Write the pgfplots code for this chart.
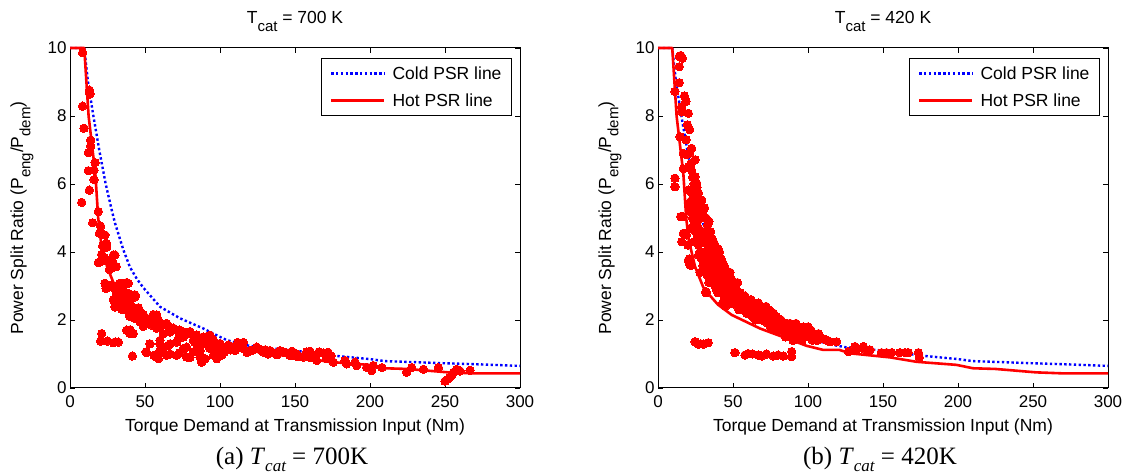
\documentclass[border=0pt]{standalone}
\usepackage{fontspec}
\setmainfont{Liberation Sans}
\newfontfamily\timesfont{Liberation Serif}
\usepackage{pgfplots}
\usepackage{pgfplotstable}
\pgfplotsset{compat=1.18}
\newcommand{\sub}[1]{\raisebox{-0.42em}{\fontsize{15}{15}\selectfont #1}}

\pgfplotstableread{
x y
0 10
9.5 10
12 9.0
15.6 8.0
19.5 7.0
23.8 6.0
28 5.2
30 4.85
35.6 4.06
40 3.55
44.7 3.2
48.9 2.95
60 2.39
73.3 2.05
88.9 1.75
97.8 1.55
104.4 1.41
115 1.28
125 1.2
140 1.14
150 1.1
176 0.95
200 0.85
210 0.79
230 0.76
248 0.73
270 0.7
300 0.65
}\coldline

\pgfplotstableread{
x y
0 10
9.5 10
12.4 8.0
16.9 6.3
18.8 5.0
20.5 4.35
24.7 3.57
30.2 2.96
33 2.8
40 2.45
49.1 2.15
68 1.75
85.8 1.46
99.1 1.24
110.2 1.12
121 1.12
128 1.02
154.7 0.90
172.4 0.77
199 0.68
210 0.58
225 0.56
252 0.46
270 0.43
300 0.43
}\hotline

\pgfplotstableread{
x y
8.4 9.86
12.9 8.76
13.4 8.65
8.4 8.29
9.3 7.64
13.8 7.29
13.8 7.12
12.2 6.92
16.7 6.63
12.2 6.39
16.0 6.41
16.0 6.13
12.9 5.82
7.8 5.46
18.9 5.19
15.1 4.86
20.4 4.76
19.6 4.55
21.1 4.55
23.3 4.5
21.8 4.18
22.2 4.2
24.4 4.14
24.4 4.25
21.1 3.93
18.9 3.69
20.0 3.71
22.7 3.84
23.3 3.76
26.7 3.76
26.7 3.71
28.9 3.91
30.0 3.91
28.9 3.65
30.9 3.57
30.0 3.57
27.8 3.52
26.2 3.48
23.3 3.08
24.0 2.93
24.4 2.93
27.8 3.03
28.9 2.98
30.0 2.93
32.2 3.03
33.3 3.08
34.4 3.08
37.8 3.1
38.9 3.08
30.9 2.78
31.1 2.78
35.6 2.87
35.6 2.88
38.9 2.78
43.3 2.74
28.9 2.6
28.9 2.59
32.2 2.5
30.2 2.38
30.0 2.39
34.4 2.68
35.6 2.55
40.0 2.46
40.0 2.59
43.3 2.68
34.4 2.31
34.4 2.34
37.8 2.31
37.8 2.29
41.1 2.41
42.2 2.24
43.3 2.31
45.6 2.36
45.6 2.34
47.8 2.2
40.0 2.16
40.0 2.1
44.4 2.11
43.3 2.05
48.9 2.16
46.7 1.95
51.1 2.05
52.2 2.0
55.6 2.16
57.8 2.15
58.9 2.0
55.6 1.91
54.4 1.85
48.9 1.81
57.8 1.76
60.0 1.8
62.2 1.86
64.4 1.9
65.6 1.81
62.2 1.6
66.7 1.65
68.9 1.76
71.1 1.7
73.3 1.7
75.6 1.65
80.0 1.66
80.0 1.6
84.4 1.55
84.4 1.56
88.9 1.5
91.1 1.51
93.3 1.55
92.2 1.4
95.6 1.41
75.6 1.5
72.2 1.45
82.2 1.4
86.7 1.3
100.0 1.31
105.6 1.26
113.3 1.2
115.6 1.34
37.8 1.7
40.0 1.71
40.0 1.6
42.2 1.6
21.1 1.6
20.4 1.38
24.9 1.38
28.9 1.33
30.0 1.35
32.2 1.35
41.6 0.94
53.3 1.3
50.7 1.06
51.1 1.04
56.0 0.96
56.7 0.97
57.8 0.9
58.9 0.86
60.0 1.3
60.0 1.4
60.0 1.1
61.1 1.2
62.2 1.16
65.6 1.25
66.7 1.3
64.4 0.96
66.7 1.0
71.1 0.96
71.1 1.35
73.3 1.04
75.6 1.16
77.8 1.2
77.8 0.91
80.0 0.9
82.2 1.06
83.3 1.35
86.7 1.1
86.7 0.91
87.8 0.76
90.0 0.86
93.3 1.25
93.3 1.16
95.6 0.96
96.7 1.06
97.8 0.86
101.1 0.96
104.4 1.16
108.9 1.2
97.8 1.26
102.2 1.2
106.7 1.16
111.8 1.34
115.6 1.16
120.0 1.1
124.4 1.2
128.9 1.06
133.3 1.1
137.8 1.0
142.2 1.06
146.7 0.96
151.1 1.0
155.6 0.91
157.8 1.06
162.2 0.96
164.4 0.81
168.9 1.03
171.1 0.86
170.0 1.0
175.6 0.76
110 1.1
118 1.05
122 1.12
126 1.15
130 1.12
135 1.05
140 1.1
145 1.02
148 1.08
152 0.92
158 0.98
160 1.08
166 1.06
172 1.05
174 0.95
160 0.9
150 0.95
138 0.98
132 1.0
103 1.05
107 1.12
99 1.1
95 1.2
90 1.3
88 1.45
85 1.25
183.3 0.81
184.4 0.71
190.0 0.76
191.1 0.66
197.8 0.61
201.1 0.51
202.2 0.66
208.0 0.6
224.4 0.46
227.8 0.6
235.6 0.55
245.6 0.6
250.0 0.2
251.5 0.25
253.0 0.3
254.5 0.38
255.6 0.46
257.8 0.55
260.0 0.5
266.7 0.52
}\scatA

\pgfplotstableread{
x y
14.2 9.75
16.2 9.7
15.2 9.78
14.2 9.45
14.2 8.98
11.3 8.72
17.6 8.59
15.8 8.27
18.7 8.43
20.2 8.08
15.8 8.12
19.6 7.74
21.1 7.6
14.7 7.39
18.7 7.3
22.4 7.05
16.9 6.9
18.9 6.86
24.7 6.71
20.4 6.51
22.4 6.4
16.9 6.45
24.7 6.22
25.8 6.02
11.3 6.17
11.3 5.92
20.4 5.82
27.0 5.73
23.6 5.63
29.1 5.53
20.4 5.39
25.8 5.34
30.2 5.24
16.9 5.04
23.6 5.04
28.0 5.09
15.1 5.04
16.9 4.55
15.8 4.3
18.0 4.55
20.2 3.76
21.3 3.62
32.0 2.83
48.0 2.49
21 6.9
22 6.6
23 6.2
24 6.0
25 5.8
26 5.6
27 5.4
28 5.2
29 5.0
22 5.5
23 5.0
24 4.8
25 4.6
26 4.4
27 4.2
28 4.0
21 5.2
22 4.7
19 4.5
20 4.2
21 3.8
22 3.6
24 4.3
26 4.9
27 4.7
29 4.5
30 4.3
28 4.6
25 5.2
26 5.9
24 5.5
23 5.7
27 3.9
29 3.8
30 3.6
28 3.4
31 5.3
32 5.0
33 4.8
34 4.9
35 4.6
36 4.4
37 4.3
38 4.2
39 4.0
40 4.1
31 4.6
32 4.4
33 4.2
34 4.0
35 3.9
36 3.8
37 3.7
38 3.6
39 3.5
40 3.4
31 4.0
32 3.8
33 3.6
34 3.4
35 3.3
36 3.2
37 3.1
38 3.0
39 2.9
40 2.8
32 2.8
34 3.1
31 3.5
33 3.3
35 3.6
37 3.4
39 3.2
36 4.1
38 3.9
40 3.7
41 4.0
42 3.8
43 3.7
44 3.6
45 3.5
46 3.4
47 3.3
48 3.4
49 3.2
50 3.1
41 3.5
42 3.3
43 3.2
44 3.1
45 3.0
46 2.9
47 2.8
48 2.7
49 2.6
50 2.5
41 3.0
42 2.9
43 2.8
44 2.7
45 2.6
46 3.1
47 3.0
48 2.9
49 2.8
50 2.7
42 3.6
44 3.3
46 3.2
48 3.1
43 2.5
45 2.4
51 3.0
52 2.9
53 2.8
54 2.7
55 2.8
56 2.6
57 2.7
58 2.5
59 2.6
60 2.4
51 2.6
52 2.5
53 2.4
54 2.6
55 2.4
56 2.3
57 2.4
58 2.3
59 2.2
60 2.6
52 2.7
54 2.3
56 2.5
58 2.7
53 3.1
55 2.5
61 2.5
62 2.3
63 2.4
64 2.2
65 2.3
66 2.4
67 2.2
68 2.1
69 2.3
70 2.2
62 2.6
64 2.5
66 2.1
68 2.4
70 2.0
63 2.1
65 2.0
67 2.5
69 2.0
71 2.3
72 2.1
73 2.2
74 2.0
75 2.1
76 1.9
77 2.0
78 1.9
79 2.1
80 1.8
72 2.4
74 2.3
76 2.2
78 1.7
80 2.0
73 1.9
75 1.8
77 2.2
81 1.9
82 1.8
83 1.7
84 1.9
85 1.8
86 1.6
87 1.7
88 1.9
89 1.6
90 1.8
91 1.7
92 1.5
93 1.6
94 1.8
95 1.7
82 2.0
84 1.6
86 1.9
88 1.5
90 1.4
92 1.9
85 1.5
96 1.6
97 1.8
98 1.5
99 1.7
100 1.6
101 1.5
102 1.7
103 1.4
104 1.6
105 1.5
106 1.4
107 1.6
108 1.5
100 1.8
96 1.4
110 1.45
112.4 1.41
119.1 1.36
114.7 1.36
24.7 1.36
26.9 1.29
30.2 1.29
33.5 1.33
28.5 1.3
51.3 1.04
58.0 0.97
60.2 1.01
63.0 1.0
66.9 0.97
69.1 0.94
72.4 1.0
76.9 0.94
80.0 0.97
83.6 0.94
89.1 1.07
89.1 0.92
126.9 1.07
131.3 1.22
132.4 1.14
136.9 1.22
138.0 1.14
141.3 1.12
149.0 1.04
152.4 1.04
155.8 1.04
161.3 1.04
164.7 1.04
166.9 1.04
173.6 1.04
174.2 0.90
}\scatB

\pgfplotsset{psr/.style={
  width=450pt, height=340pt, scale only axis, anchor=south west,
  xmin=0, xmax=300, ymin=0, ymax=10,
  xtick={0,50,...,300}, ytick={0,2,...,10},
  tick align=inside, major tick length=5pt,
  axis line style={black, line width=1pt},
  every tick/.style={black, line width=0.8pt},
  /pgf/number format/assume math mode=true,
  ticklabel style={font=\fontsize{17}{20}\selectfont},
  xticklabel style={yshift=-4pt},
  label style={font=\fontsize{17.5}{20}\selectfont},
  xlabel={Torque Demand at Transmission Input (Nm)},
  ylabel={Power Split Ratio (P\sub{eng}/P\sub{dem})},
  xlabel style={at={(axis description cs:0.5,0)}, anchor=base, yshift=-44pt},
  ylabel style={at={(axis description cs:-0.1044,0.5)}, anchor=base},
  title style={font=\fontsize{17.5}{20}\selectfont, at={(axis description cs:0.5,1)}, anchor=base, yshift=18pt},
  clip=false,
  legend style={at={(1,1)}, anchor=north east, xshift=-8pt, yshift=-10pt, draw=black, line width=1pt, font=\fontsize{17.5}{20}\selectfont, inner xsep=8pt, inner ysep=6pt, row sep=9pt, /tikz/every odd column/.append style={column sep=5pt}},
  legend cell align=left,
  legend image code/.code={\draw[#1] (0pt,0pt) -- (53pt,0pt);},
  scat/.style={only marks, mark=*, mark size=4.2pt, color=red, mark options={fill=red, draw=red, line width=0pt}, forget plot},
  cold/.style={blue, line width=2.4pt, dash pattern=on 2.4pt off 2.4pt},
  hot/.style={red, line width=2.6pt, line join=round},
}}

\begin{document}
\begin{tikzpicture}
\useasboundingbox (0,0) rectangle (1130pt,473pt);
\begin{axis}[psr, at={(70pt,85pt)}, title={T\sub{cat} = 700 K}]
\addplot[scat] table {\scatA};
\addplot[cold] table {\coldline};
\addlegendentry{Cold PSR line}
\addplot[hot] table {\hotline};
\addlegendentry{Hot PSR line}
\end{axis}
\begin{axis}[psr, at={(658pt,85pt)}, title={T\sub{cat} = 420 K}]
\addplot[scat] table {\scatB};
\addplot[cold] table {\coldline};
\addlegendentry{Cold PSR line}
\addplot[hot] table {\hotline};
\addlegendentry{Hot PSR line}
\end{axis}
\node[font=\timesfont\fontsize{25}{28}\selectfont, anchor=base] at (292pt,8pt) {(a) \textit{T}\raisebox{-0.25em}{\fontsize{17}{17}\selectfont\itshape cat} = 700K};
\node[font=\timesfont\fontsize{25}{28}\selectfont, anchor=base] at (880pt,8pt) {(b) \textit{T}\raisebox{-0.25em}{\fontsize{17}{17}\selectfont\itshape cat} = 420K};
\end{tikzpicture}
\end{document}
